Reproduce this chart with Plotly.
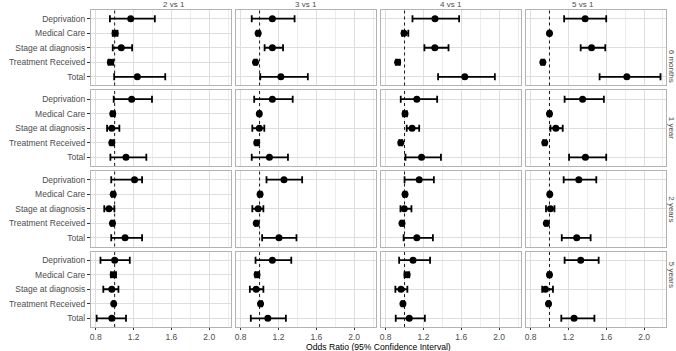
import plotly.graph_objects as go

categories = ["Deprivation", "Medical Care", "Stage at diagnosis", "Treatment Received", "Total"]
comparisons = ["2 vs 1", "3 vs 1", "4 vs 1", "5 vs 1"]
timepoints = ["6 months", "1 year", "2 years", "5 years"]
x_ticks = [0.8, 1.2, 1.6, 2.0]
x_tick_labels = ["0.8", "1.2", "1.6", "2.0"]
x_minor = [1.0, 1.4, 1.8, 2.2]

# rows = timepoints, entries follow `categories`
est_2v1 = [[1.17, 1.005, 1.07, 0.955, 1.24],
           [1.18, 0.98, 0.97, 0.97, 1.12],
           [1.21, 0.985, 0.94, 0.977, 1.11],
           [1.0, 0.985, 0.97, 0.99, 0.97]]
lo_2v1 = [[0.95, 0.98, 0.98, 0.935, 0.995],
          [0.99, 0.965, 0.92, 0.955, 0.955],
          [0.964, 0.97, 0.89, 0.965, 0.964],
          [0.85, 0.96, 0.88, 0.98, 0.81]]
hi_2v1 = [[1.425, 1.03, 1.185, 0.985, 1.535],
          [1.395, 1.0, 1.05, 0.99, 1.335],
          [1.29, 1.0, 0.997, 0.99, 1.29],
          [1.16, 1.015, 1.04, 1.0, 1.12]]

est_3v1 = [[1.135, 0.985, 1.135, 0.957, 1.225],
           [1.135, 0.997, 0.997, 0.97, 1.104],
           [1.258, 1.005, 0.985, 0.965, 1.205],
           [1.135, 0.973, 0.963, 1.01, 1.087]]
lo_3v1 = [[0.917, 0.97, 1.053, 0.945, 1.007],
          [0.943, 0.985, 0.923, 0.955, 0.917],
          [1.073, 0.99, 0.923, 0.955, 1.027],
          [0.957, 0.955, 0.897, 1.0, 0.907]]
hi_3v1 = [[1.37, 1.0, 1.248, 0.97, 1.51],
          [1.35, 1.01, 1.05, 0.985, 1.3],
          [1.45, 1.02, 1.04, 0.98, 1.39],
          [1.335, 0.99, 1.04, 1.025, 1.278]]

est_4v1 = [[1.322, 0.995, 1.32, 0.927, 1.637],
           [1.13, 1.005, 1.08, 0.96, 1.18],
           [1.155, 1.005, 0.997, 0.973, 1.13],
           [1.09, 1.027, 0.963, 0.983, 1.05]]
lo_4v1 = [[1.084, 0.975, 1.21, 0.91, 1.355],
          [0.96, 0.985, 1.023, 0.945, 1.01],
          [1.0, 0.99, 0.957, 0.96, 0.99],
          [0.943, 1.0, 0.903, 0.97, 0.907]]
hi_4v1 = [[1.577, 1.04, 1.465, 0.95, 1.955],
          [1.345, 1.025, 1.155, 0.975, 1.385],
          [1.31, 1.02, 1.073, 0.985, 1.3],
          [1.27, 1.05, 1.03, 0.995, 1.215]]

est_5v1 = [[1.377, 1.0, 1.445, 0.93, 1.818],
           [1.35, 1.0, 1.067, 0.95, 1.38],
           [1.31, 1.003, 1.01, 0.967, 1.288],
           [1.33, 1.0, 0.957, 0.99, 1.26]]
lo_5v1 = [[1.155, 0.99, 1.33, 0.915, 1.53],
          [1.16, 0.985, 1.01, 0.935, 1.207],
          [1.15, 0.99, 0.963, 0.955, 1.13],
          [1.16, 0.985, 0.923, 0.98, 1.125]]
hi_5v1 = [[1.6, 1.01, 1.59, 0.945, 2.174],
          [1.575, 1.015, 1.14, 0.965, 1.6],
          [1.495, 1.015, 1.053, 0.98, 1.435],
          [1.52, 1.015, 1.037, 1.0, 1.475]]

est_all = [est_2v1, est_3v1, est_4v1, est_5v1]
lo_all = [lo_2v1, lo_3v1, lo_4v1, lo_5v1]
hi_all = [hi_2v1, hi_3v1, hi_4v1, hi_5v1]

W, H = 676, 351
ML, MR, MT, MB = 65, 9, 10, 24
pw, ph = W - ML - MR, H - MT - MB
gx, gy = 5 / pw, 5 / ph
cw = (1 - 3 * gx) / 4
rh = (1 - 3 * gy) / 4


def clamp(v):
    return round(min(1.0, max(0.0, v)), 6)


FONT = "Liberation Sans, Arial, sans-serif"
TXT = "#4D4D4D"
XR = [0.75, 2.232]

fig = go.Figure()
layout = {}
shapes = []
annotations = []
for r in range(4):
    for c in range(4):
        n = r * 4 + c + 1
        sfx = "" if n == 1 else str(n)
        est = est_all[c][r]
        lo = lo_all[c][r]
        hi = hi_all[c][r]
        fig.add_trace(go.Scatter(
            x=est, y=categories, mode="markers",
            marker=dict(color="black", size=7),
            error_x=dict(type="data", symmetric=False,
                         array=[h - e for h, e in zip(hi, est)],
                         arrayminus=[e - l for e, l in zip(est, lo)],
                         color="black", thickness=1.8, width=3.5),
            xaxis="x" + sfx, yaxis="y" + sfx, showlegend=False,
            hoverinfo="x+y"))
        x0 = c * (cw + gx)
        y1 = 1 - r * (rh + gy)
        layout["xaxis" + sfx] = dict(
            domain=[clamp(x0), clamp(x0 + cw)], anchor="y" + sfx, range=XR,
            tickvals=x_ticks, ticktext=x_tick_labels,
            showticklabels=(r == 3), ticks="outside" if r == 3 else "",
            ticklen=2, tickcolor="#333333",
            tickfont=dict(family=FONT, size=8.5, color=TXT),
            showgrid=True, gridcolor="#DEDEDE", gridwidth=1,
            minor=dict(tickvals=x_minor, showgrid=True, gridcolor="#EDEDED", gridwidth=0.6),
            showline=True, mirror=True, linecolor="#B3B3B3", linewidth=1.2,
            zeroline=False, fixedrange=True)
        layout["yaxis" + sfx] = dict(
            domain=[clamp(y1 - rh), clamp(y1)], anchor="x" + sfx, type="category",
            categoryorder="array", categoryarray=categories,
            range=[4.6, -0.6],
            showticklabels=(c == 0), ticks="outside" if c == 0 else "",
            ticklen=3, tickcolor="#333333",
            tickfont=dict(family=FONT, size=8.5, color=TXT),
            showgrid=True, gridcolor="#DEDEDE", gridwidth=1,
            showline=True, mirror=True, linecolor="#B3B3B3", linewidth=1.2,
            zeroline=False, fixedrange=True)
        shapes.append(dict(type="line", xref="x" + sfx, yref="y" + sfx + " domain",
                           x0=1, x1=1, y0=0, y1=1,
                           line=dict(color="black", width=0.9, dash="3px,3px")))
        if r == 0:
            annotations.append(dict(text=comparisons[c], xref="paper", yref="paper",
                                    x=clamp(x0 + cw / 2), y=1, yanchor="bottom", yshift=-1,
                                    showarrow=False,
                                    font=dict(family=FONT, size=8, color=TXT)))
        if c == 3:
            annotations.append(dict(text=timepoints[r], xref="paper", yref="paper",
                                    x=1, y=clamp(y1 - rh / 2), xanchor="left", xshift=-1,
                                    textangle=90, showarrow=False,
                                    font=dict(family=FONT, size=8, color=TXT)))

annotations.append(dict(text="Odds Ratio (95% Confidence Interval)", xref="paper", yref="paper",
                        x=0.5, y=0, yanchor="top", yshift=-14, showarrow=False,
                        borderpad=0,
                        font=dict(family=FONT, size=8.6, color="black")))

fig.update_layout(**layout)
fig.update_layout(
    width=W, height=H,
    margin=dict(l=ML, r=MR, t=MT, b=MB),
    paper_bgcolor="white", plot_bgcolor="white",
    shapes=shapes, annotations=annotations,
    font=dict(family=FONT, color=TXT),
)
fig.write_html("out.html", config={"displayModeBar": False},
               post_script="document.body.style.margin='0';document.body.style.padding='0';")
